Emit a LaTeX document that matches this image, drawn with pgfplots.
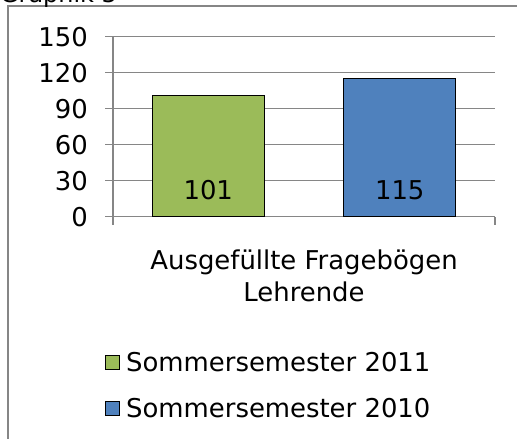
\documentclass[border=0pt]{standalone}
\usepackage{fontspec}
\setmainfont{DejaVu Sans}
\usepackage{pgfplots}
\pgfplotsset{compat=1.18}
\definecolor{xlgreen}{RGB}{155,187,89}
\definecolor{xlblue}{RGB}{79,129,189}
\definecolor{xlgrid}{RGB}{134,134,134}
\newcommand{\bigfont}{\fontsize{26}{32}\selectfont}

\begin{document}
\begin{tikzpicture}[x=1bp,y=1bp]
\useasboundingbox (0,0) rectangle (517,439);
\clip (0,0) rectangle (517,439);
% chart frame (cut off at the right and bottom)
\draw[xlgrid, line width=1.5bp] (8,-20) -- (8,433) -- (540,433);
\node[anchor=base west, inner sep=0pt, font=\fontsize{24}{28}\selectfont] at (0,436) {Graphik 3};
\begin{axis}[
  at={(113bp,222.3bp)}, anchor=south west,
  scale only axis, width=382bp, height=180bp,
  ybar=79.5bp, bar width=112bp,
  xmin=-0.5, xmax=0.5,
  ymin=0, ymax=150,
  ytick={0,30,...,150},
  xtick={-0.5,0.5}, xticklabels={},
  axis lines*=left,
  axis line style={-, xlgrid, line width=1.5bp},
  tick style={xlgrid, line width=1.5bp},
  tick align=outside, major tick length=8bp,
  ymajorgrids, grid style={xlgrid, line width=1.5bp},
  tick label style={font=\bigfont},
  /pgf/number format/assume math mode=true,
  yticklabel style={inner sep=0pt, xshift=-17bp},
  xlabel={Ausgefüllte Fragebögen\\Lehrende},
  xlabel style={font=\bigfont, align=center, at={(axis description cs:0.5,0)},
                anchor=north, inner sep=0pt, yshift=-33bp},
  visualization depends on=y \as \rawy,
  nodes near coords,
  nodes near coords style={font=\bigfont, anchor=center, black,
                shift={(axis direction cs:0,22.3-\rawy)}},
  legend style={at={(axis description cs:-0.021,-0.74)}, anchor=north west,
                draw=none, fill=none, font=\bigfont, inner sep=0pt,
                row sep=21bp, legend cell align=left,
                /tikz/every odd column/.append style={column sep=4bp}},
  legend image code/.code={\draw[#1, draw=black, line width=1bp] (0bp,-7bp) rectangle (14bp,7bp);},
]
\addplot[fill=xlgreen, draw=black, line width=1bp] coordinates {(0,101)};
\addlegendentry{Sommersemester 2011}
\addplot[fill=xlblue, draw=black, line width=1bp] coordinates {(0,115)};
\addlegendentry{Sommersemester 2010}
\end{axis}
\end{tikzpicture}
\end{document}
